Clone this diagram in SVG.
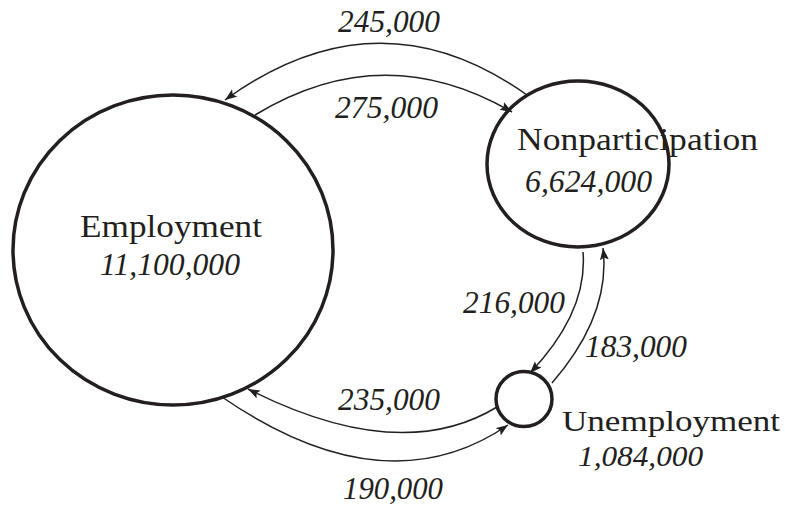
<svg xmlns="http://www.w3.org/2000/svg" width="785" height="507" viewBox="0 0 785 507">
<style>
.node{fill:none;stroke:#231f20;stroke-width:3.5}
.edge{fill:none;stroke:#231f20;stroke-width:1.5;marker-end:url(#ah)}
.lbl{font-family:"Liberation Serif","Times New Roman",serif;font-size:32px;fill:#231f20}
.num{font-family:"Liberation Serif","Times New Roman",serif;font-size:32px;font-style:italic;fill:#231f20}
.sm{font-size:30px}
</style>
<defs>
<marker id="ah" markerUnits="userSpaceOnUse" markerWidth="13" markerHeight="10" refX="12" refY="4.5" orient="auto">
<path d="M0,0 L12,4.5 L0,9 L2.5,4.5 z" fill="#231f20"/>
</marker>
</defs>
<rect width="785" height="507" fill="#ffffff"/>
<g id="connectors">
<path class="edge" d="M527,95 Q378,-11 225,100"/>
<path class="edge" d="M255,115 Q383,37 512,112"/>
<path class="edge" d="M583,252 Q588,312 530,373"/>
<path class="edge" d="M552,383 Q611,315 603,248"/>
<path class="edge" d="M497,407 Q400,466 248,389"/>
<path class="edge" d="M222,397 Q385,509 508,425"/>
</g>
<g id="employment">
<ellipse class="node" cx="173" cy="250" rx="160" ry="155"/>
<text class="lbl" x="80" y="237" textLength="182" lengthAdjust="spacingAndGlyphs">Employment</text>
<text class="num" x="100" y="275" textLength="140" lengthAdjust="spacingAndGlyphs">11,100,000</text>
</g>
<g id="nonparticipation">
<ellipse class="node" cx="578" cy="164" rx="91" ry="83"/>
<text class="lbl" x="517" y="150" textLength="241" lengthAdjust="spacingAndGlyphs">Nonparticipation</text>
<text class="num" x="525" y="192" textLength="127" lengthAdjust="spacingAndGlyphs">6,624,000</text>
</g>
<g id="unemployment">
<ellipse class="node" cx="524" cy="399" rx="28" ry="27.5"/>
<text class="lbl sm" x="562" y="431" textLength="218" lengthAdjust="spacingAndGlyphs">Unemployment</text>
<text class="num sm" x="578" y="466" textLength="125" lengthAdjust="spacingAndGlyphs">1,084,000</text>
</g>
<g id="labels">
<text class="num" x="338" y="32" textLength="102" lengthAdjust="spacingAndGlyphs">245,000</text>
<text class="num" x="335" y="118" textLength="103" lengthAdjust="spacingAndGlyphs">275,000</text>
<text class="num" x="463" y="313" textLength="102" lengthAdjust="spacingAndGlyphs">216,000</text>
<text class="num" x="585" y="357" textLength="102" lengthAdjust="spacingAndGlyphs">183,000</text>
<text class="num" x="338" y="410" textLength="102" lengthAdjust="spacingAndGlyphs">235,000</text>
<text class="num" x="343" y="499" textLength="100" lengthAdjust="spacingAndGlyphs">190,000</text>
</g>
</svg>
